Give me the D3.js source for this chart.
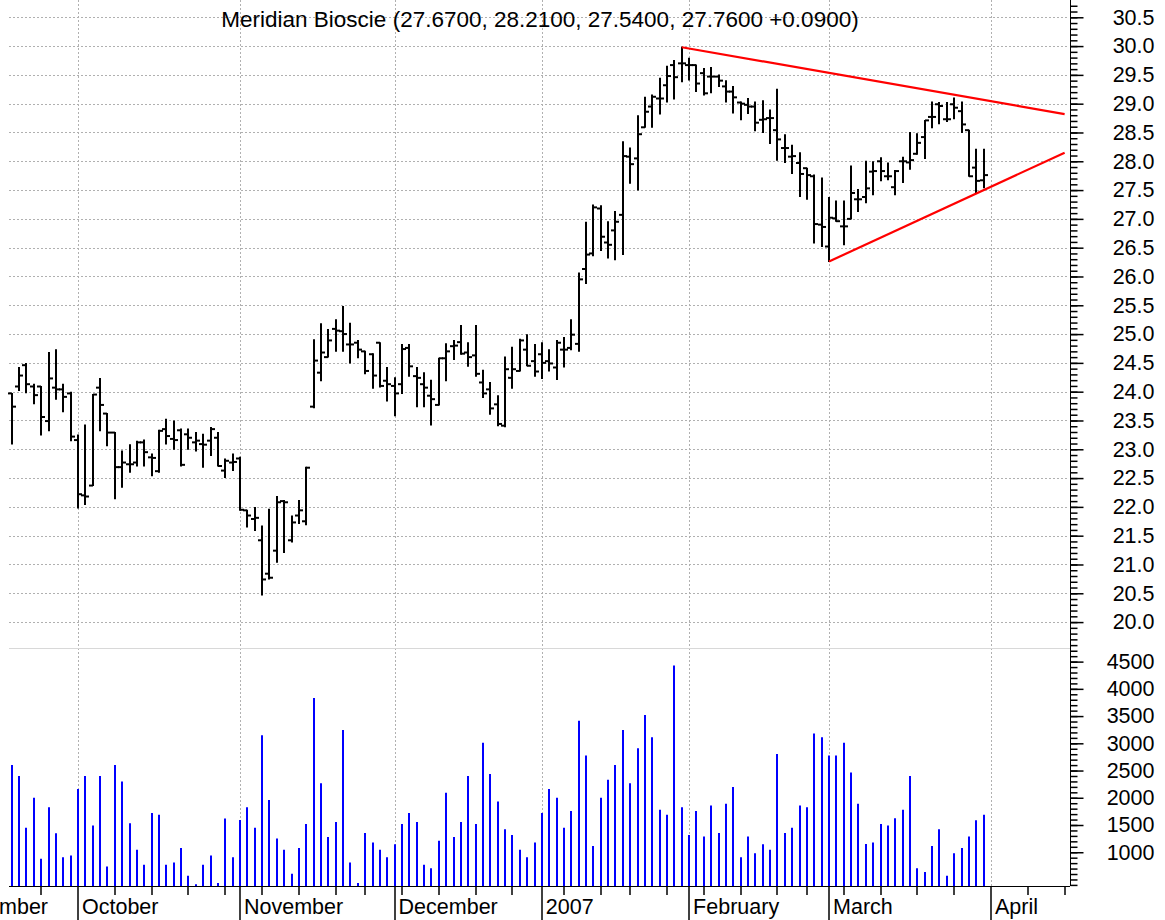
<!DOCTYPE html>
<html><head><meta charset="utf-8">
<script src="https://cdn.jsdelivr.net/npm/d3@7"></script>
<style>body{margin:0;background:#fff}svg{display:block;font-family:"Liberation Sans",Arial,Helvetica,sans-serif}</style>
</head><body>
<svg id="c" width="1165" height="920"></svg>
<script>
const title = "Meridian Bioscie (27.6700, 28.2100, 27.5400, 27.7600 +0.0900)";

// trading-day index relative to 2006-10-02 (first bar = -9, last bar = 123)
const firstIndex = -9;
const dates = [
"2006-09-19","2006-09-20","2006-09-21","2006-09-22","2006-09-25","2006-09-26","2006-09-27","2006-09-28","2006-09-29",
"2006-10-02","2006-10-03","2006-10-04","2006-10-05","2006-10-06","2006-10-09","2006-10-10","2006-10-11","2006-10-12","2006-10-13","2006-10-16","2006-10-17","2006-10-18","2006-10-19","2006-10-20","2006-10-23","2006-10-24","2006-10-25","2006-10-26","2006-10-27","2006-10-30","2006-10-31",
"2006-11-01","2006-11-02","2006-11-03","2006-11-06","2006-11-07","2006-11-08","2006-11-09","2006-11-10","2006-11-13","2006-11-14","2006-11-15","2006-11-16","2006-11-17","2006-11-20","2006-11-21","2006-11-22","2006-11-24","2006-11-27","2006-11-28","2006-11-29","2006-11-30",
"2006-12-01","2006-12-04","2006-12-05","2006-12-06","2006-12-07","2006-12-08","2006-12-11","2006-12-12","2006-12-13","2006-12-14","2006-12-15","2006-12-18","2006-12-19","2006-12-20","2006-12-21","2006-12-22","2006-12-26","2006-12-27","2006-12-28","2006-12-29",
"2007-01-03","2007-01-04","2007-01-05","2007-01-08","2007-01-09","2007-01-10","2007-01-11","2007-01-12","2007-01-16","2007-01-17","2007-01-18","2007-01-19","2007-01-22","2007-01-23","2007-01-24","2007-01-25","2007-01-26","2007-01-29","2007-01-30","2007-01-31",
"2007-02-01","2007-02-02","2007-02-05","2007-02-06","2007-02-07","2007-02-08","2007-02-09","2007-02-12","2007-02-13","2007-02-14","2007-02-15","2007-02-16","2007-02-20","2007-02-21","2007-02-22","2007-02-23","2007-02-26","2007-02-27","2007-02-28",
"2007-03-01","2007-03-02","2007-03-05","2007-03-06","2007-03-07","2007-03-08","2007-03-09","2007-03-12","2007-03-13","2007-03-14","2007-03-15","2007-03-16","2007-03-19","2007-03-20","2007-03-21","2007-03-22","2007-03-23","2007-03-26","2007-03-27","2007-03-28","2007-03-29","2007-03-30"
];

const open = [23.97,24.09,24.46,24.09,24.09,23.49,24.07,24.04,23.97,
23.16,22.20,22.37,24.07,23.62,23.29,22.69,22.74,22.77,23.12,22.86,22.62,23.35,23.18,23.33,23.26,23.12,23.09,23.15,23.20,22.63,22.77,
22.84,21.94,21.79,21.42,20.84,21.24,22.10,21.42,21.85,21.75,23.74,24.33,24.60,25.09,25.05,24.82,24.85,24.70,24.65,24.85,24.19,
24.10,24.13,24.76,24.27,24.13,23.93,23.77,24.58,24.79,24.86,24.68,24.63,24.16,24.04,23.78,23.41,24.24,24.36,24.73,24.53,
24.65,24.53,24.42,24.73,24.76,24.83,26.13,26.40,27.18,26.59,26.80,27.07,28.08,28.05,28.59,28.95,29.09,29.32,29.67,29.70,
29.67,29.67,29.53,29.47,29.47,29.30,29.21,29.02,28.98,28.95,28.72,28.75,28.54,28.23,28.08,27.97,27.88,27.74,26.90,
26.52,27.01,26.87,27.00,27.34,27.38,27.82,28.00,27.74,27.55,28.00,27.98,28.13,28.42,28.77,28.99,28.73,28.99,28.87,28.54,27.89,27.67];
const high = [23.97,24.42,24.49,24.13,24.09,24.68,24.73,24.13,23.99,
23.25,23.42,23.95,24.23,23.62,23.29,22.97,23.08,23.14,23.16,22.92,23.33,23.52,23.49,23.35,23.35,23.29,23.26,23.38,23.29,22.83,22.92,
22.86,21.94,21.99,21.67,21.96,22.18,22.11,21.84,22.11,22.69,24.90,25.18,25.08,25.25,25.48,25.19,24.89,24.70,24.66,24.85,24.42,
24.24,24.82,24.82,24.42,24.33,24.20,24.58,24.83,24.89,25.15,24.85,25.15,24.37,24.16,23.93,24.60,24.77,24.91,24.99,24.82,
24.85,24.73,24.89,24.94,25.25,26.06,26.94,27.24,27.23,26.95,27.13,28.34,28.23,28.79,29.11,29.15,29.44,29.65,29.75,29.98,
29.79,29.67,29.61,29.63,29.50,29.40,29.30,29.03,29.09,29.03,29.05,28.89,29.25,28.46,28.28,28.15,27.88,27.76,27.71,
27.37,27.31,27.31,27.92,27.51,28.00,27.99,28.06,27.97,27.84,28.07,28.50,28.48,28.71,29.03,29.02,29.02,29.10,29.03,28.54,28.21,28.21];
const low = [23.09,24.02,23.98,23.79,23.25,23.32,23.87,23.65,23.15,
21.98,22.04,22.37,23.32,23.06,22.14,22.34,22.60,22.71,22.71,22.54,22.60,23.09,23.00,22.71,23.00,22.97,22.69,22.89,22.71,22.51,22.63,
21.94,21.65,21.59,20.47,20.75,21.04,21.21,21.39,21.71,21.69,23.72,24.19,24.60,24.70,24.70,24.50,24.59,24.31,24.06,24.08,23.84,
23.58,23.97,24.27,23.74,23.74,23.42,23.77,24.19,24.56,24.65,24.44,24.27,23.90,23.61,23.41,23.39,24.06,24.36,24.45,24.27,
24.23,24.36,24.21,24.43,24.73,24.70,25.88,26.36,26.45,26.32,26.29,26.38,27.62,27.50,28.59,28.59,28.82,29.03,29.08,29.38,
29.41,29.21,29.15,29.19,29.30,29.03,28.84,28.72,28.83,28.53,28.50,28.31,28.02,27.98,27.79,27.39,27.34,26.58,26.52,
26.26,26.96,26.55,27.00,27.13,27.28,27.42,27.66,27.68,27.42,27.63,27.86,28.12,28.05,28.58,28.65,28.69,28.74,28.50,27.74,27.45,27.54];
const close = [23.74,24.28,24.13,23.94,23.56,24.23,24.04,23.91,23.22,
22.22,22.18,23.95,23.77,23.29,22.69,22.77,22.74,23.12,22.95,22.85,23.32,23.23,23.16,22.73,23.20,23.15,23.08,23.35,22.71,22.80,22.78,
21.95,21.85,21.81,20.74,20.77,22.08,22.08,21.73,21.94,22.68,24.54,24.68,24.89,25.06,25.00,24.82,24.73,24.36,24.28,24.10,24.13,
23.97,24.74,24.44,24.24,24.07,23.87,24.58,24.70,24.80,24.66,24.60,24.31,23.97,23.71,23.44,24.39,24.39,24.89,24.45,24.35,
24.50,24.49,24.85,24.73,24.99,25.95,26.38,27.20,26.69,26.55,26.95,28.09,27.95,28.47,28.86,29.12,29.09,29.48,29.46,29.70,
29.67,29.35,29.18,29.47,29.40,29.21,29.11,29.00,28.95,28.67,28.73,28.75,28.38,28.23,28.09,27.78,27.76,26.91,26.86,
27.02,26.96,26.87,27.45,27.34,27.53,27.83,27.83,27.74,27.83,28.00,28.02,28.32,28.71,28.77,28.96,28.73,28.93,28.64,27.74,27.66,27.76];
const volume = [2600,2400,1450,2000,880,1825,1350,910,940,
2160,2400,1490,2400,740,2600,2300,1530,1045,770,1720,1690,770,810,1080,570,410,770,940,435,1620,910,
1590,1825,1450,3150,1960,1250,1045,605,1080,1520,3830,2265,1280,1555,3245,810,435,1355,1180,1045,910,
1145,1520,1720,1555,770,705,1210,2090,1280,1555,2400,1520,3010,2435,1930,1420,1315,1045,910,1180,
1720,2160,2000,1450,1755,3415,2775,1115,2000,2330,2600,3245,2265,2910,3520,3110,1780,1690,4430,1825,
1315,1755,1290,1860,1355,1890,2200,910,1290,980,1145,1045,2805,1355,1450,1860,1825,3180,3110,
2775,2775,3010,2465,1890,1150,1180,1520,1490,1625,1780,2400,705,635,1115,1420,570,980,1080,1290,1585,1690];

const monthLabels = ["September","October","November","December","2007","February","March","April"];
const monthStarts = [-20,0,22,43,63,83,102,124];
const weekStarts = [-10,-5,5,10,15,20,25,30,35,39,44,49,54,59,66,71,75,80,85,90,95,99,104,109,114,119,129,134];
const priceTicks = [20.0,20.5,21.0,21.5,22.0,22.5,23.0,23.5,24.0,24.5,25.0,25.5,26.0,26.5,27.0,27.5,28.0,28.5,29.0,29.5,30.0,30.5];
const volumeTicks = [1000,1500,2000,2500,3000,3500,4000,4500];
const trendLines = [
  [[82,29.98],[134,28.82]],
  [[102,26.26],[134,28.15]]
];

const svg = d3.select("#c");
const L = 9, R = 1070, FS = "21.5px";
const x = d3.scaleLinear().domain([0,124]).range([78,991]);
const y = d3.scaleLinear().domain([19.55,30.8]).range([648,0]);
const yv = d3.scaleLinear().domain([380,4750]).range([886,648]);
const base = yv(380);

const bars = dates.map((d,i)=>({date:d, idx:i+firstIndex, o:open[i], h:high[i], l:low[i], c:close[i], v:volume[i]}));

// grids
const grid = svg.append("g").attr("stroke","#b0b0b0").attr("stroke-width",1).attr("stroke-dasharray","2,2");
grid.selectAll("line.h").data(priceTicks).join("line")
  .attr("x1",L).attr("x2",R-2).attr("y1",d=>Math.round(y(d))+0.5).attr("y2",d=>Math.round(y(d))+0.5);
grid.selectAll("line.v").data(monthStarts.filter(m=>x(m)>L && x(m)<R)).join("line")
  .attr("x1",d=>Math.round(x(d))+0.5).attr("x2",d=>Math.round(x(d))+0.5).attr("y1",0).attr("y2",base);

// separator between panels
svg.append("line").attr("x1",L).attr("x2",R).attr("y1",648.5).attr("y2",648.5).attr("stroke","#d8d8d8").attr("stroke-width",1);

// volume bars
svg.append("g").selectAll("line").data(bars).join("line")
  .attr("x1",d=>Math.round(x(d.idx))).attr("x2",d=>Math.round(x(d.idx)))
  .attr("y1",base).attr("y2",d=>yv(d.v))
  .attr("stroke","#0000ff").attr("stroke-width",2);

// OHLC bars
const g = svg.append("g").attr("stroke","#000").attr("stroke-width",2);
const bx = d=>Math.round(x(d.idx));
g.selectAll("line.hl").data(bars).join("line")
  .attr("x1",bx).attr("x2",bx).attr("y1",d=>y(d.h)-0.5).attr("y2",d=>y(d.l)+0.5);
g.selectAll("line.o").data(bars).join("line")
  .attr("x1",d=>bx(d)-4).attr("x2",bx).attr("y1",d=>y(d.o)).attr("y2",d=>y(d.o));
g.selectAll("line.c").data(bars).join("line")
  .attr("x1",bx).attr("x2",d=>bx(d)+4).attr("y1",d=>y(d.c)).attr("y2",d=>y(d.c));

// trend lines
const line = d3.line().x(d=>x(d[0])).y(d=>y(d[1]));
svg.append("g").selectAll("path").data(trendLines).join("path")
  .attr("d",line).attr("fill","none").attr("stroke","#ff0000").attr("stroke-width",2.2);

// right axes
function rightAxis(scale, major, minor, fmt){
  const gm = svg.append("g").attr("transform",`translate(${R+0.5},0)`);
  gm.call(d3.axisRight(scale).tickValues(minor).tickSize(7).tickFormat(""));
  gm.select(".domain").remove();
  gm.selectAll("line").attr("stroke","#000").attr("stroke-width",1.5);
  const gM = svg.append("g").attr("transform",`translate(${R+0.5},0)`);
  gM.call(d3.axisRight(scale).tickValues(major).tickSize(13).tickFormat(fmt));
  gM.select(".domain").remove();
  gM.selectAll("line").attr("stroke","#000").attr("stroke-width",1.5);
  gM.selectAll("text").attr("x",84).attr("text-anchor","end").attr("fill","#000")
    .style("font-size",FS).style("font-family",'"Liberation Sans",Arial,sans-serif');
}
rightAxis(y, priceTicks, d3.range(196,308).map(v=>v/10), d3.format(".1f"));
rightAxis(yv, volumeTicks, d3.range(4,48).map(v=>v*100), d3.format("d"));
svg.append("line").attr("x1",R+0.5).attr("x2",R+0.5).attr("y1",0).attr("y2",base).attr("stroke","#000").attr("stroke-width",1);

// x axis
svg.append("line").attr("x1",L).attr("x2",R).attr("y1",base+0.5).attr("y2",base+0.5).attr("stroke","#000").attr("stroke-width",1);
svg.append("g").selectAll("line").data(weekStarts.filter(w=>x(w)>L && x(w)<=R)).join("line")
  .attr("x1",d=>Math.round(x(d))).attr("x2",d=>Math.round(x(d))).attr("y1",base).attr("y2",base+9)
  .attr("stroke","#000").attr("stroke-width",1.5);
svg.append("g").selectAll("line").data(monthStarts.filter(m=>x(m)>L && x(m)<R)).join("line")
  .attr("x1",d=>Math.round(x(d))).attr("x2",d=>Math.round(x(d))).attr("y1",base).attr("y2",920)
  .attr("stroke","#000").attr("stroke-width",1.5);
// month labels; the first (September) runs off the left edge as in the source,
// placed so that its tail ends just before the first weekly tick
svg.append("g").selectAll("text").data(monthLabels).join("text")
  .attr("x",(d,i)=> i===0 ? 48 : x(monthStarts[i])+4)
  .attr("text-anchor",(d,i)=> i===0 ? "end" : "start")
  .attr("y",914)
  .style("font-size",FS).attr("fill","#000").text(d=>d);

// title
svg.append("text").attr("x",540).attr("y",27).attr("text-anchor","middle")
  .style("font-size","22.5px").attr("fill","#000").text(title);
</script>
</body></html>
